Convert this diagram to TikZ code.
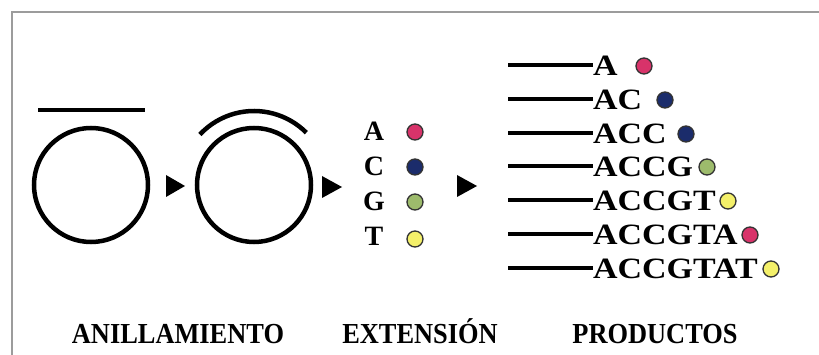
\documentclass[tikz,border=0pt]{standalone}
\usepackage{fontspec}
\setmainfont{Liberation Serif}
\definecolor{frame}{HTML}{9C9C9C}
\definecolor{baseA}{HTML}{D8336A}
\definecolor{baseC}{HTML}{1B2C6B}
\definecolor{baseG}{HTML}{9DBB6C}
\definecolor{baseT}{HTML}{F4F06A}
\begin{document}
\begin{tikzpicture}[x=1pt,y=-1pt,
  strand/.style={line width=4.5pt,black},
  ring/.style={circle,draw=black,line width=4.5pt,minimum size=114pt,inner sep=0pt},
  pointer/.style={fill=black,draw=none},
  base/.style={circle,draw=black!80,line width=1.3pt,minimum size=16pt,inner sep=0pt},
  nucl/.style={font=\fontsize{28}{28}\selectfont\bfseries,inner sep=0pt,anchor=base},
  prod/.style={font=\fontsize{29.5}{30}\selectfont\bfseries,inner sep=0pt,anchor=base west,xscale=1.15},
  caption/.style={font=\fontsize{29}{29}\selectfont\bfseries,inner sep=0pt,anchor=base,xscale=0.91}
]
\useasboundingbox (0,0) rectangle (819,355);
\fill[white] (0,0) rectangle (819,355);
% frame edges
\draw[frame,line width=2pt] (12,355) -- (12,12) -- (819,12);

% annealing: free primer above the template circle
\node[ring] (ring1) at (91,185) {};
\coordinate (primerL) at (38,110);
\coordinate (primerR) at (145,110);
\draw[strand] (primerL) -- (primerR);

\fill[pointer] (166,175) -- (185,186) -- (166,197) -- cycle;

% primer bound around the template circle
\node[ring] (ring2) at (254,185) {};
\draw[strand] (ring2.center) ++(-45:74) arc[start angle=-45,end angle=-137,radius=74];

\fill[pointer] (322,176) -- (342,187) -- (322,198) -- cycle;

% extension: the four nucleotides
\node[nucl] (nA) at (374,141) {A};
\node[nucl] (nC) at (374,176) {C};
\node[nucl] (nG) at (374,211) {G};
\node[nucl] (nT) at (374,246) {T};
\node[base,fill=baseA] (dA) at (415,132) {};
\node[base,fill=baseC] (dC) at (415,167) {};
\node[base,fill=baseG] (dG) at (415,202) {};
\node[base,fill=baseT] (dT) at (415,239) {};

\fill[pointer] (457,175) -- (477,186) -- (457,197) -- cycle;

% products
\foreach \i/\seq/\yc/\dx/\col in {1/A/65/644/baseA,2/AC/99/665/baseC,3/ACC/133/686/baseC,
   4/ACCG/166/707/baseG,5/ACCGT/200/728/baseT,6/ACCGTA/234/750/baseA,7/ACCGTAT/268/771/baseT}{
  \node[prod] (p\i) at (593,\yc+11) {\seq};
  \coordinate (s\i) at (508,\yc);
  \draw[strand] (s\i) -- (p\i.west |- s\i);
  \node[base,fill=\col] (d\i) at (\dx,\yc+1) {};
}

% captions
\node[caption] (cap1) at (178,343) {ANILLAMIENTO};
\node[caption] (cap2) at (420,343) {EXTENSIÓN};
\node[caption] (cap3) at (655,343) {PRODUCTOS};
\end{tikzpicture}
\end{document}
